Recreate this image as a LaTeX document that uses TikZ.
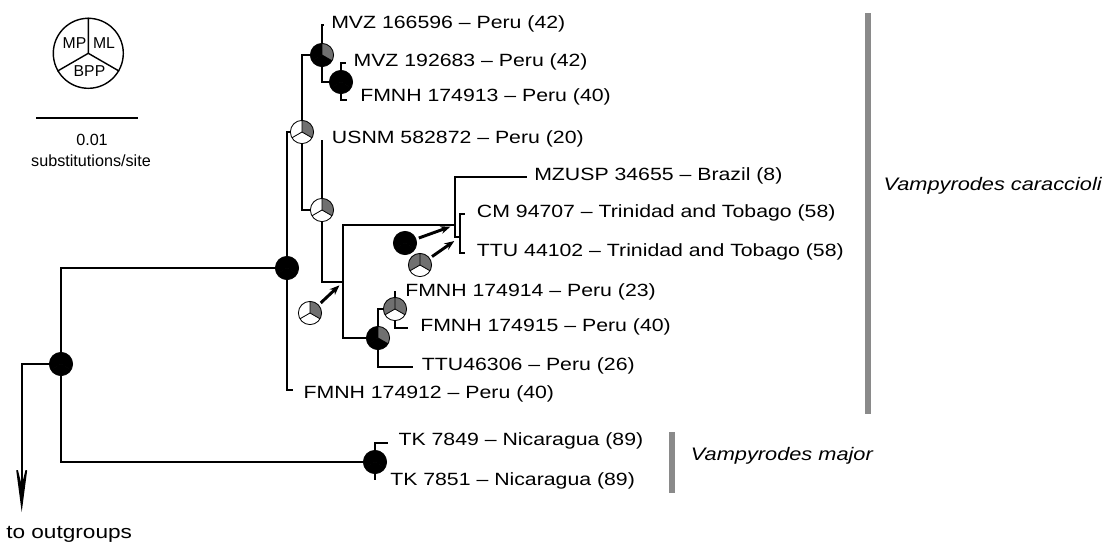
\documentclass[tikz,border=0pt]{standalone}
\usepackage{fontspec}
\setmainfont[FakeStretch=1.2]{Liberation Sans}
\newfontfamily\legendfont{Liberation Sans}
\usepackage{xcolor}
\usepackage{tikz}
\usetikzlibrary{arrows.meta,calc}

\definecolor{piegray}{HTML}{707070}
\definecolor{bargray}{HTML}{8A8A8A}

% pie of support values: name, position, MP, ML, BPP
\newcommand{\supportpie}[5]{
  \node[circle,minimum size=0.58cm,inner sep=0pt] (#1) at (#2) {};
  \fill[#3] (#1.center) -- ++(90:0.29cm) arc[start angle=90,end angle=210,radius=0.29cm] -- cycle;
  \fill[#4] (#1.center) -- ++(330:0.29cm) arc[start angle=330,end angle=450,radius=0.29cm] -- cycle;
  \fill[#5] (#1.center) -- ++(210:0.29cm) arc[start angle=210,end angle=330,radius=0.29cm] -- cycle;
  \draw[line width=0.6pt] (#1.center) circle[radius=0.29cm]
    (#1.center) -- ++(90:0.29cm) (#1.center) -- ++(210:0.29cm) (#1.center) -- ++(330:0.29cm);
}

\newcommand{\labelsize}{\fontsize{12.6}{15}\selectfont}

\tikzset{
  branch/.style={line width=1.2pt},
  taxon/.style={anchor=base west,inner sep=0pt},
  clade/.style={anchor=base west,inner sep=0pt,font=\fontsize{12.9}{15}\selectfont\itshape},
  ptr/.style={line width=2.1pt,-{Stealth[length=7pt,width=5.5pt]},shorten <=2pt,shorten >=3.5pt},
  bar/.style={line width=4.6pt,bargray},
  keytext/.style={inner sep=0pt,font=\legendfont\fontsize{11.2}{13}\selectfont}
}

\begin{document}
\begin{tikzpicture}[x=0.025cm,y=-0.025cm,font=\labelsize]
\useasboundingbox (0,0) rectangle (1112,541);

% Key: pie and scale bar
\node[circle,draw,line width=1pt,minimum size=1.75cm,inner sep=0pt] (key) at (88.3,53.3) {};
\draw[line width=1pt] (key.center) -- (key.north) (key.center) -- (key.210) (key.center) -- (key.330);
\node[keytext] (keyMP) at (74.5,43) {MP};
\node[keytext] (keyML) at (104,43) {ML};
\node[keytext] (keyBPP) at (89.5,71) {BPP};
\coordinate (sbl) at (36,118);
\coordinate (sbr) at (138,118);
\draw[branch] (sbl) -- (sbr);
\node[keytext,font=\legendfont\fontsize{11.5}{13}\selectfont] (sbval) at (92,140) {0.01};
\node[keytext,font=\legendfont\fontsize{11.5}{13}\selectfont] (sbunit) at (91,161) {substitutions/site};

% Nodes of the tree
\supportpie{R}{61,364}{black}{black}{black}
\supportpie{B}{287,268}{black}{black}{black}
\supportpie{W1}{302,132}{white}{piegray}{white}
\supportpie{n1}{322,55}{black}{piegray}{black}
\supportpie{n2}{341,82}{black}{black}{black}
\supportpie{W2}{322,210}{white}{piegray}{white}
\supportpie{Bg}{378,338}{black}{piegray}{black}
\supportpie{G2}{395,309}{piegray}{piegray}{white}
\supportpie{TK}{375,462}{black}{black}{black}
\coordinate (nA) at (343,282);
\coordinate (nT) at (455,225);
\coordinate (nC) at (460,237);

% Pies pointing at short branches
\supportpie{W3}{310,313}{white}{piegray}{white}
\supportpie{Bk}{405,243}{black}{black}{black}
\supportpie{G1}{420,265}{piegray}{piegray}{white}

% Tips
\coordinate (t66596) at (324,25);
\coordinate (t92683) at (346,63);
\coordinate (t74913) at (347,100);
\coordinate (tUSNM) at (322,140);
\coordinate (tMZ) at (527,177);
\coordinate (tCM) at (465,214);
\coordinate (tTTU) at (465,253);
\coordinate (t74914) at (395,291);
\coordinate (t74915) at (408,328);
\coordinate (t46306) at (413,367);
\coordinate (t74912) at (293,390);
\coordinate (t7849) at (388,443);
\coordinate (t7851) at (375,480);
\coordinate (out) at (21.7,512);

% Branches
\draw[branch,-{Stealth[length=40pt,width=10.5pt,inset=21pt]}] (R) -| (out);
\draw[branch] (R) |- (B);
\draw[branch] (R) |- (TK);
\draw[branch] (B) |- (W1);
\draw[branch] (B) |- (t74912);
\draw[branch] (W1) |- (n1);
\draw[branch] (W1) |- (W2);
\draw[branch] (n1) |- (t66596);
\draw[branch] (n1) |- (n2);
\draw[branch] (n2) |- (t92683);
\draw[branch] (n2) |- (t74913);
\draw[branch] (W2) -- (tUSNM);
\draw[branch] (W2) |- (nA);
\draw[branch] (nA) |- (nT);
\draw[branch] (nA) |- (Bg);
\draw[branch] (nT) |- (tMZ);
\draw[branch] (nT) |- (nC);
\draw[branch] (nC) |- (tCM);
\draw[branch] (nC) |- (tTTU);
\draw[branch] (Bg) |- (G2);
\draw[branch] (Bg) |- (t46306);
\draw[branch] (G2) -- (t74914);
\draw[branch] (G2) |- (t74915);
\draw[branch] (TK) |- (t7849);
\draw[branch] (TK) -- (t7851);

% Arrows from pies
\draw[ptr] (W3) -- (nA);
\draw[ptr] (Bk) -- (nT);
\draw[ptr,shorten >=5pt] (G1) -- (nC);

% Taxon labels
\node[taxon] (l66596) at (331,28.3) {MVZ 166596 -- Peru (42)};
\node[taxon] (l92683) at (353.3,66) {MVZ 192683 -- Peru (42)};
\node[taxon] (l74913) at (360,101.7) {FMNH 174913 -- Peru (40)};
\node[taxon] (lUSNM) at (331.7,143.3) {USNM 582872 -- Peru (20)};
\node[taxon] (lMZ) at (534,180.7) {MZUSP 34655 -- Brazil (8)};
\node[taxon] (lCM) at (476.7,217.7) {CM 94707 -- Trinidad and Tobago (58)};
\node[taxon] (lTTU) at (476.7,256) {TTU 44102 -- Trinidad and Tobago (58)};
\node[taxon] (l74914) at (405,296) {FMNH 174914 -- Peru (23)};
\node[taxon] (l74915) at (420,331) {FMNH 174915 -- Peru (40)};
\node[taxon] (l46306) at (421.7,370) {TTU46306 -- Peru (26)};
\node[taxon] (l74912) at (303.3,398.3) {FMNH 174912 -- Peru (40)};
\node[taxon] (l7849) at (398.3,445.7) {TK 7849 -- Nicaragua (89)};
\node[taxon] (l7851) at (390,485) {TK 7851 -- Nicaragua (89)};
\node[taxon,font=\fontsize{13.4}{16}\selectfont] (lout) at (6,538) {to outgroups};

% Clade bars
\coordinate (cbt) at (868,13);
\coordinate (cbb) at (868,414);
\draw[bar] (cbt) -- (cbb);
\node[clade] (lcar) at (883.3,190) {Vampyrodes caraccioli};
\coordinate (mbt) at (672,432);
\coordinate (mbb) at (672,493);
\draw[bar] (mbt) -- (mbb);
\node[clade] (lmaj) at (690.7,460) {Vampyrodes major};

\end{tikzpicture}
\end{document}
